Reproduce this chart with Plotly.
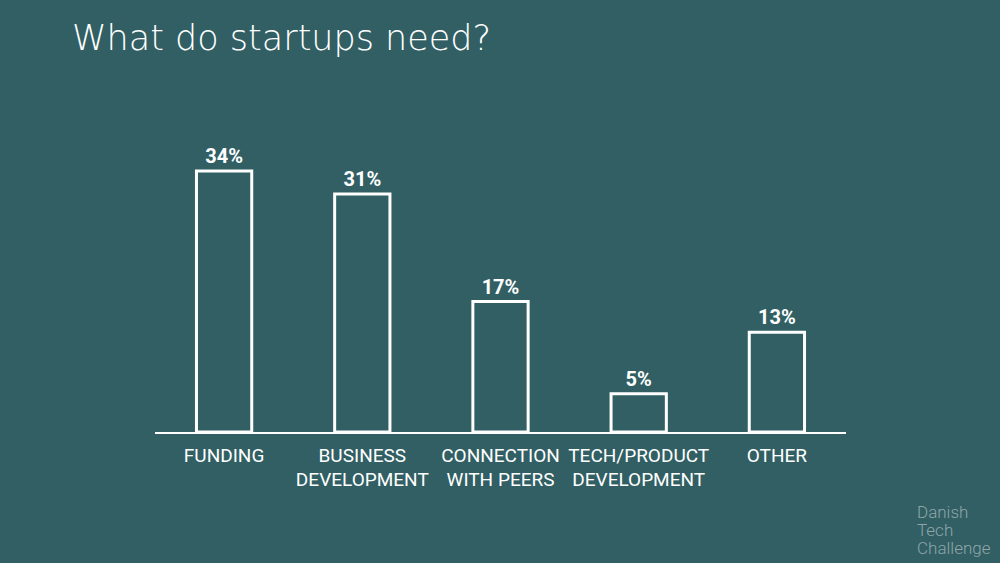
import plotly.graph_objects as go

categories = ["FUNDING", "BUSINESS<br>DEVELOPMENT", "CONNECTION<br>WITH PEERS", "TECH/PRODUCT<br>DEVELOPMENT", "OTHER"]
values = [34, 31, 17, 5, 13]
value_labels = ["34%", "31%", "17%", "5%", "13%"]
title_text = "What do startups need?"
logo_lines = ["Danish", "Tech", "Challenge"]

BG = "#315f64"
W, H = 1000, 563
l, r, t, b = 155, 154, 125, 131
pw, ph = W - l - r, H - t - b


def px(x, y):
    return (x - l) / pw, (H - b - y) / ph


fig = go.Figure(go.Bar(
    x=categories, y=values, text=value_labels, textposition="outside",
    textfont=dict(family="Roboto", size=20, color="white", weight="bold"),
    marker=dict(color=BG, line=dict(color="white", width=3)),
    width=0.4, cliponaxis=False,
))

anns = []
tx, ty = px(70, 38)
anns.append(dict(text=title_text, x=tx, y=ty, xref="paper", yref="paper",
                 showarrow=False, xanchor="left", yanchor="middle",
                 font=dict(family="DejaVu Sans", size=35, color="white", weight=200)))
for i, line in enumerate(logo_lines):
    lx, ly = px(915, 512 + 18 * i)
    anns.append(dict(text=line, x=lx, y=ly, xref="paper", yref="paper",
                     showarrow=False, xanchor="left", yanchor="middle",
                     font=dict(family="Roboto", size=17, color="#8fa5a8", weight=300)))

fig.update_layout(
    width=W, height=H,
    paper_bgcolor=BG, plot_bgcolor=BG,
    margin=dict(l=l, r=r, t=t, b=b),
    showlegend=False,
    xaxis=dict(showline=True, linecolor="white", linewidth=1.5, ticks="",
               ticklabelstandoff=5,
               tickfont=dict(family="Roboto", size=19, color="white"),
               showgrid=False, zeroline=False),
    yaxis=dict(range=[0, 40], visible=False, showgrid=False, zeroline=False),
    annotations=anns,
)

fig.write_html("out.html", config={"displayModeBar": False})
with open("out.html", "r", encoding="utf-8") as f:
    html = f.read()
html = html.replace("<head>", "<head><style>html,body{margin:0;padding:0;overflow:hidden;background:%s}</style>" % BG, 1)
with open("out.html", "w", encoding="utf-8") as f:
    f.write(html)
